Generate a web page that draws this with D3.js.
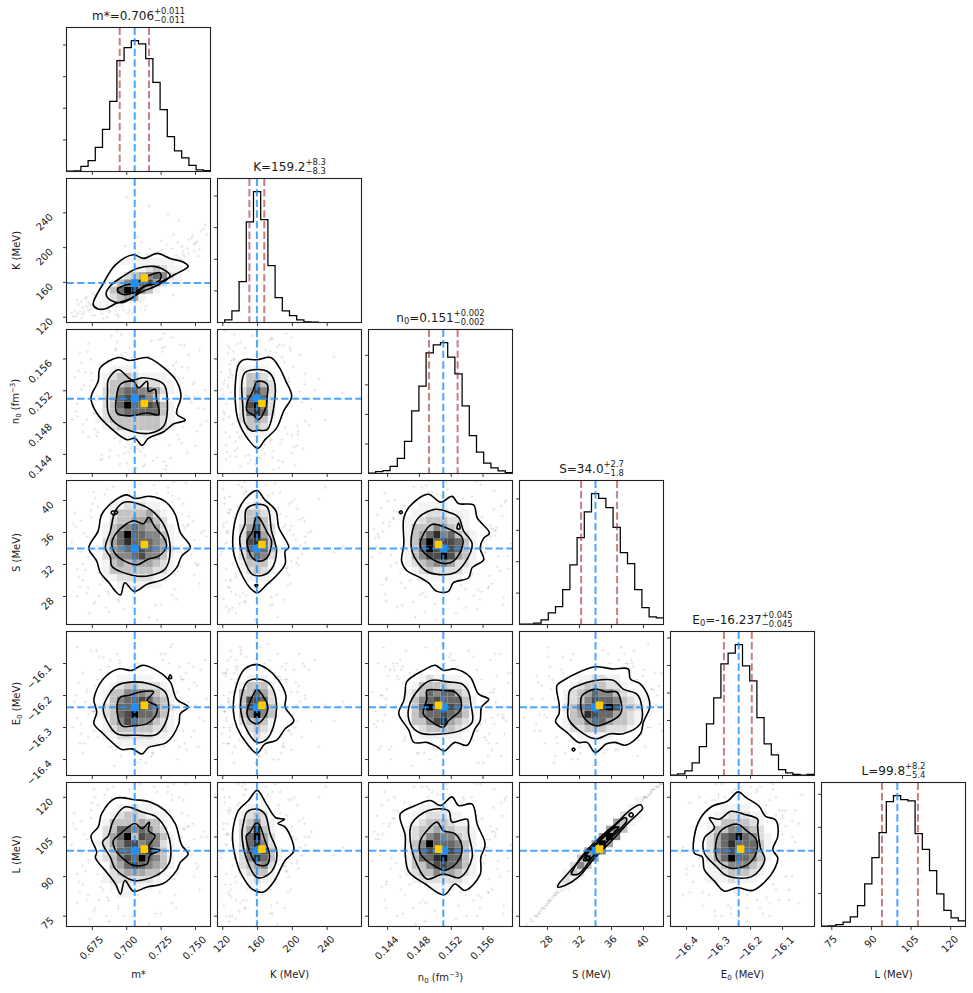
<!DOCTYPE html>
<html><head><meta charset="utf-8">
<script src="https://cdn.jsdelivr.net/npm/d3@7"></script>
<style>html,body{margin:0;padding:0;background:#fff}svg{display:block}text{font-family:"DejaVu Sans",sans-serif;fill:#1a1a1a}</style>
</head><body><svg id="c" width="973" height="993"></svg>
<script>
// ---- parameter axes
const domains=[[0.6562,0.7609],[113.9,279.5],[0.1416,0.1597],[24.5,42.5],[-16.45,-16.0],[71.1,125.6]];
const tickValues=[[0.675,0.7,0.725,0.75],[120,160,200,240],[0.144,0.148,0.152,0.156],[28,32,36,40],[-16.4,-16.3,-16.2,-16.1],[75,90,105,120]];
const tickFormats=[".3f",".0f",".3f",".0f",".1f",".0f"];
const medians=[0.7058,159.2,0.151,34.0,-16.237,99.8];
const lower16=[0.6949,150.6,0.1492,32.2,-16.283,94.0];
const upper84=[0.7162,167.7,0.1528,36.7,-16.196,107.6];
const bestFit=[0.7128,165,0.1504,34.5,-16.231,100.4];
// ---- one-dimensional histograms, 20 bins
const countsM=[1,2,16,34,76,133,222,351,392,414,404,357,282,196,110,65,43,19,5,3];
const countsK=[0,8,37,129,318,414,325,180,79,37,22,8,2,1,0,0,0,0,0,0];
const countsN=[1,6,10,24,51,109,212,296,408,435,443,394,337,229,128,72,35,19,9,3];
const countsS=[1,1,4,15,37,57,111,190,277,359,417,402,372,309,229,194,111,54,24,21];
const countsE=[1,6,17,46,105,188,282,406,445,476,399,344,210,115,75,21,10,4,1,4];
const countsL=[1,2,6,13,29,63,129,208,284,378,396,384,380,281,233,169,99,49,26,17];
const histCounts=[countsM,countsK,countsN,countsS,countsE,countsL];
const histTicks=[100,200,300,400,500];
// ---- titles
const titleNames=[["m*"],["K"],["n","0"],["S"],["E","0"],["L"]];
const titleValues=["0.706","159.2","0.151","34.0","-16.237","99.8"];
const titlePlus=["0.011","8.3","0.002","2.7","0.045","8.2"];
const titleMinus=["0.011","8.3","0.002","1.8","0.045","5.4"];
const axisLabels=[[["m*"]],[["K (MeV)"]],[["n"],["0","sub"],[" (fm"],["\u22123","sup"],[")"]],[["S (MeV)"]],[["E"],["0","sub"],[" (MeV)"]],[["L (MeV)"]]];
// ---- samples outside the contours: m*, K, n0, S, E0, L
const samples=[
[.672,128,.1462,29.1,-16.33,83],[.681,136,.1552,38.2,-16.12,113],[.664,124,.1504,31.4,-16.27,91],[.733,182,.1481,28.2,-16.14,80],[.741,196,.1536,39.6,-16.31,119],
[.688,134,.1445,33.2,-16.36,97],[.726,174,.1569,36.9,-16.09,109],[.694,146,.1438,27.4,-16.21,78],[.749,204,.1512,35.1,-16.16,104],[.677,122,.1491,40.3,-16.25,120],
[.719,170,.1478,30.2,-16.38,88],[.702,146,.1574,41.2,-16.18,123],[.685,131,.1539,26.6,-16.29,75],[.738,188,.1459,33.8,-16.11,100],[.669,126,.1527,35.9,-16.35,106],
[.712,165,.1448,37.7,-16.24,112],[.693,141,.1581,31.2,-16.07,90],[.728,178,.1421,32.9,-16.19,96],[.756,222,.1497,36.2,-16.28,107],[.679,137,.1468,39.2,-16.15,117],
[.708,158,.1554,28.8,-16.41,83],[.745,209,.1565,34.4,-16.22,101],[.661,121,.1484,37.1,-16.3,110],[.696,133,.1591,33.1,-16.13,97],[.722,177,.1436,40.9,-16.26,122],
[.683,129,.1518,29.9,-16.08,85],[.735,181,.1547,30.8,-16.34,89],[.69,142,.1473,41.7,-16.2,124],[.715,192,.1505,32.3,-16.12,94],[.7,149,.1429,35.4,-16.37,104],
[.674,133,.1559,37.9,-16.23,112],[.751,207,.1469,31.9,-16.17,93],[.705,176,.1586,27.9,-16.27,79],[.731,168,.1452,38.6,-16.1,115],[.667,119,.1522,33.6,-16.32,99],
[.687,127,.1487,26.1,-16.21,73],[.742,190,.1577,36.6,-16.35,108],[.698,168,.1441,39.9,-16.14,119],[.724,195,.1532,29.4,-16.25,84],[.678,141,.1463,34.9,-16.06,103],
[.71,138,.1557,42,-16.29,125],[.737,184,.1493,31.1,-16.4,91],[.692,128,.1573,38.9,-16.19,116],[.729,203,.1426,34.2,-16.3,100],[.665,135,.1545,30.4,-16.16,88],
[.716,183,.1475,25.4,-16.24,72],[.748,214,.1528,37.4,-16.11,110],[.682,124,.1434,36.1,-16.28,106],[.704,188,.1562,32.6,-16.33,95],[.733,172,.1508,40.6,-16.04,121],
[.671,143,.1484,28.4,-16.18,81],[.718,161,.1583,39.3,-16.39,118],[.695,135,.1456,30.9,-16.09,90],[.74,201,.155,35.7,-16.26,105],[.686,120,.1515,41.4,-16.13,123],
[.727,189,.1431,33.4,-16.36,98],[.662,127,.1537,38.4,-16.22,114],[.709,194,.1466,31.6,-16.15,92],[.753,198,.1571,29.6,-16.27,85],[.676,139,.1499,27.1,-16.31,77],
[.701,125,.1443,37.3,-16.12,110],[.734,215,.1541,34.7,-16.2,102],[.689,154,.1589,40,-16.28,120],[.721,175,.1459,26.9,-16.16,76],[.668,131,.1478,32.1,-16.38,94],
[.745,193,.1512,38,-16.1,113],[.697,172,.1564,35.2,-16.34,104],[.713,129,.1438,30.1,-16.23,87],[.73,186,.1496,41,-16.18,122],[.68,147,.1548,28.1,-16.08,81],
[.707,185,.1423,36.4,-16.29,107],[.739,185,.1578,31.7,-16.14,93],[.675,122,.1533,39.6,-16.25,118],[.691,160,.1471,33.7,-16.42,99],[.725,208,.1519,37.6,-16.07,111],
[.758,215,.1482,35.5,-16.21,105],[.666,126,.1567,29.2,-16.35,84],[.703,137,.1448,38.7,-16.11,115],[.736,191,.1556,27.6,-16.26,78],[.684,144,.1503,40.8,-16.3,121],
[.717,199,.1464,32.4,-16.19,95],[.693,123,.1595,34.6,-16.13,102],[.744,199,.1442,36.8,-16.37,109],[.673,135,.1526,25.9,-16.24,74],[.72,170,.1489,41.9,-16.17,124],
[.699,181,.1568,30.6,-16.32,89],[.732,163,.1435,37.2,-16.05,110],[.67,141,.1543,31.3,-16.22,92],[.711,206,.1476,39,-16.28,117],[.686,130,.1558,28.6,-16.15,82],
[.747,211,.1506,33.3,-16.33,98],[.695,158,.1428,35.8,-16.1,106],[.723,174,.1584,38.1,-16.27,113],[.663,121,.1494,36.7,-16.2,108],[.706,175,.1457,29.7,-16.12,85],
[.738,231,.1535,40.2,-16.36,120],[.677,145,.1472,27.3,-16.17,78],[.714,133,.156,34.1,-16.41,101],[.75,205,.1451,32.2,-16.23,95],[.688,126,.1524,38.5,-16.09,115],
[.726,197,.1574,36.3,-16.29,107],[.682,150,.1439,30.3,-16.18,88],[.743,180,.1514,42.2,-16.13,125],[.698,128,.1553,26.4,-16.31,75],[.719,187,.1486,35,-16.38,103],
[.672,137,.1579,33,-16.26,96],[.708,212,.1447,37.8,-16.1,112],[.735,165,.1538,28.9,-16.21,83],[.691,139,.1461,39.4,-16.34,118],[.727,193,.1592,31.5,-16.16,92],
[.66,125,.1509,34.8,-16.24,102],[.754,219,.1477,36,-16.12,105],[.702,128,.1546,40.5,-16.3,120],[.681,152,.1433,29.5,-16.2,86],[.716,248,.1563,33.5,-16.28,98],
[.74,186,.1454,38.3,-16.15,114],[.694,121,.1529,27.7,-16.35,79],[.728,183,.1575,35.6,-16.07,105],[.676,147,.1492,41.1,-16.25,123],[.71,178,.1444,31.8,-16.4,93],
[.745,173,.1549,37,-16.18,109],[.668,123,.1468,30,-16.13,87],[.7,258,.1517,34.3,-16.22,101],[.733,199,.1587,39.8,-16.32,119],[.687,135,.1437,28.3,-16.11,81],
[.722,157,.1501,25.1,-16.27,71],[.692,169,.1571,36.5,-16.37,107],[.737,206,.1465,32.8,-16.19,96],[.674,129,.1542,38.8,-16.06,115],[.712,140,.1425,35.3,-16.25,104],
[.749,196,.1531,30.7,-16.31,90],[.685,155,.1598,33.9,-16.16,99],[.73,238,.1483,41.6,-16.23,124],[.667,138,.1555,37.5,-16.29,111],[.704,124,.1452,26.7,-16.14,75],
[.757,226,.1521,34,-16.09,100],[.696,162,.1566,29,-16.39,84],[.719,184,.1432,39.1,-16.2,117],[.679,143,.151,31,-16.33,91],[.741,192,.1474,36.9,-16.15,108],
[.683,118,.1544,33.2,-16.23,97],[.725,177,.1585,27,-16.26,76],[.699,202,.1449,40.1,-16.12,120],[.752,190,.1498,32,-16.36,94],[.671,132,.1569,35.5,-16.19,104],
[.713,159,.1427,38.2,-16.28,113],[.689,163,.1534,30.5,-16.14,89],[.734,145,.1552,42.3,-16.31,125],[.664,140,.1488,28,-16.05,80],[.706,126,.1576,36.2,-16.22,106]];
// ---- two-dimensional panels: contours and grey cells in hist2d bin coordinates (0..20); cells are [row, first column, levels]
const greyLevels=[255,243,222,195,165,135,105,75,45,0];
const contoursKm=[[3.7,2.5,4.3,1.9,5.4,1.9,7,2.7,9.1,3.4,10.7,4.9,13,5.6,15.1,6.7,16.9,7.8,16.2,8.4,14.4,8.9,12.6,9.6,10.7,8.9,9.3,9.4,6.8,8,5.1,5.4],[5.5,4,6.1,3.1,7.9,2.8,10.3,4.2,12.5,5.1,14.4,6.5,13.2,7.5,12.1,7.8,9.8,7.5,8,6.5,6.1,5.1],[7.1,4.4,7.9,3.9,9.5,4.2,10.7,5,13,5.9,13,6.9,11.4,6.5,9.8,5.6,7.9,5.1,7.1,4.7]];
const cellsKm=[[2,4,"1111"],[3,5,"123441"],[4,6,"3698531"],[5,6,"1355674211"],[6,8,"23456521"],[7,9,"1123211"],[8,7,"11111111"]];
const contoursNm=[[3.4,10.5,4.2,8.4,5.6,6.8,8.4,4.7,9.5,4.9,10.5,3.9,11.4,4.9,13.5,5.8,14.9,6.9,16.5,7.4,15.3,8.3,15.9,10.7,15.3,12.8,13.5,14.7,11.2,16.1,8.8,15.7,7.2,16.1,4.7,14.7,4.4,12.8],[5.7,11.4,5.8,8.4,6.8,7,9.3,5.8,11.6,5.6,13.5,6.6,14,10.3,13.5,12.4,10.7,13.3,9.1,13,7.2,14.4,5.8,13],[7,8.4,8.6,8,11.2,8.4,12.8,8.2,12.5,10.3,12.3,11.7,11.4,11.4,11.2,12.8,10,11.9,9.3,12.8,7.5,12.4,6.9,10.3]];
const cellsNm=[[5,7,"111111"],[6,5,"1233333321"],[7,4,"12333333321"],[8,5,"2356666631"],[9,5,"2369667631"],[10,4,"1236767531"],[11,5,"2356655421"],[12,5,"1334322211"],[13,5,"123321111"],[14,6,"1111"]];
const contoursNK=[[4.3,4.7,5.6,3.5,6.6,4.7,8.2,6.3,9.2,8.7,10.3,10.7,9.5,12.8,8.6,14.7,7.4,16.1,5.5,15.8,3.6,15.8,2.9,15.1,2.5,12.8,2.5,9.6,2.9,7.3],[3.4,12.8,3.5,9.6,3.8,7,4.8,5.9,5.6,6,6.9,6.1,7.8,9.1,7.9,12.8,6.9,14.2,5,14.4,3.8,14],[4.1,9.8,4.1,8.7,5,8.1,5.7,7.5,6.6,8.9,6.9,10.7,6.9,12.4,5.6,12.8,4.8,11.2]];
const cellsNK=[[5,4,"111"],[6,3,"1332"],[7,3,"23431"],[8,3,"26862"],[9,3,"27962"],[10,3,"26862"],[11,3,"24752"],[12,3,"13532"],[13,3,"13321"],[14,3,"1111"]];
const contoursSm=[[3.1,10.6,4.2,8.8,4.7,7.2,5.9,5.8,6.8,4.6,7.5,4.1,8.1,5.8,9.4,4.6,11.2,5.6,13.5,6.3,15.3,7.9,16,9.5,17.2,10.7,15.8,12.8,15.1,15.3,13.7,17.1,11.6,17.8,9.5,17.5,8.4,18,6.8,17.3,4.9,15.3,4.4,13],[5.4,10.6,6.1,9.3,6.3,8.1,9.3,6.8,11.6,6.8,13.7,7.7,14.4,10.2,13.7,13.5,12.1,15.6,10.7,16.5,8.1,17,6.8,15.8,6.1,13],[6.3,11.2,6.8,9.8,8.1,8.8,9.8,8.3,11.4,9.1,12.8,9.5,13.9,10.9,13.5,12.1,12.3,13.5,11.4,14.9,10.7,14,9.3,14.4,7,12.8],[6.2,15.6,6.8,15.8,7.1,15.6,6.5,15.2]];
const cellsSm=[[5,7,"111111"],[6,5,"112222211"],[7,5,"1333333221"],[8,5,"1343444321"],[9,5,"2455675531"],[10,4,"124567765421"],[11,5,"2468666541"],[12,5,"1369665531"],[13,5,"1345654421"],[14,6,"23344532"],[15,6,"13333421"],[16,6,"1122211"],[17,8,"111"]];
const contoursSK=[[2.2,13,2.2,10.2,3.1,7.5,4.5,5.1,5.5,4.4,6.9,5.6,8.2,6.8,9.4,8.4,9.4,10.2,9.9,10.7,8.5,13.5,8.1,15.8,6.5,17.4,5.5,18.6,3.8,17.4,2.7,15.3],[3.1,12.1,3.6,9.3,4.8,7,6.2,6.8,7.5,7.7,8.2,10.2,7.5,13,6.9,16.3,5.5,16.7,4,16,3.8,13.9],[4.1,11.6,4.8,9.3,5.7,8.8,6.9,9.3,7.5,11.6,6.9,12.8,5.7,14.9,5.4,14.9,4.8,12.8],[5.2,5.5,5.6,5.5,5.4,5.2]];
const cellsSK=[[6,4,"111"],[7,3,"12321"],[8,3,"13331"],[9,3,"24652"],[10,3,"267631"],[11,3,"27863"],[12,3,"26942"],[13,3,"24732"],[14,3,"13531"],[15,3,"13321"],[16,4,"121"],[17,5,"1"]];
const contoursSN=[[4.6,8.8,5.3,7.5,7.2,6.5,8.3,5.8,9.5,4.6,11.1,4.6,11.8,5.8,13.9,6.5,14.4,7.9,16,9,15.5,10.6,16,12,16.8,12.7,15.1,14.8,14.6,16.6,12.5,16.8,11.6,17.8,10,17,8.3,18.1,5.8,16.5,4.9,14.8,4.9,11.1],[6.1,10,7.9,7.5,9.3,7,12,7.2,13.4,8.6,14.4,11.2,13.2,13,12.5,14.9,11.1,15.6,9.3,16,7,14.9,6.1,13],[7.2,10.9,7.9,9.8,10.2,8.5,11.8,8.8,13,10.7,13,12.1,10.6,13.5,8.8,13.9,7.6,12.5],[4.3,15.6,4.5,15.8,4.7,15.6,4.5,15.4],[12.5,14.1,12.7,13.3,12.3,13.3]];
const cellsSN=[[6,7,"111111"],[7,6,"12322221"],[8,5,"1234554221"],[9,5,"1357797431"],[10,5,"1369787631"],[11,5,"1369677631"],[12,5,"1346856321"],[13,5,"133354321"],[14,5,"112333221"],[15,6,"11222111"],[16,7,"1111"]];
const contoursEm=[[3.8,7.2,5.1,5.8,6.8,4.2,7.7,3.6,9.1,3.7,10.5,3,11.4,3.9,13.9,4.6,15.6,7.2,15.8,8.6,16.9,9.5,15.3,10.6,14.4,13,12.5,14.6,10.5,15.3,9.1,14.6,7.2,14.8,5.1,13.4,3.8,10.6,4.2,8.8],[5.1,9.3,5.6,7.6,7,5.8,9.8,5.6,12.5,5.7,13.7,7.2,14.2,9.5,13.7,11.6,11.6,12.7,9.3,13,7,12.5,5.8,11.1],[7,9.5,7.7,6.9,9.3,6.9,11.2,7.2,12.5,8.6,12.5,9.7,11.2,10.4,12.1,11.6,10.2,11.6,8.6,11.1,7.5,10.9],[14.2,13.5,14.6,13.5,14.4,14]];
const cellsEm=[[4,7,"111111"],[5,5,"112222211"],[6,5,"1233333221"],[7,5,"1357655321"],[8,4,"12367966531"],[9,4,"123666765321"],[10,5,"1356676431"],[11,5,"1335554321"],[12,6,"12332221"],[13,7,"11111"]];
const contoursEK=[[2.2,9,2.7,6.7,4.1,4.4,5.5,3.1,6.6,4.4,8.2,4.9,9.4,6.5,10.6,7.6,9.4,9.5,9.5,11.1,8.5,13.2,6.9,14.8,5.5,15.4,3.8,14.8,2.7,12.7],[3.2,9.5,3.8,6.9,5.5,4.6,6.9,5.1,7.8,6.9,8.2,9.5,7.8,11.8,6.9,13,5.5,13.4,4.1,13,3.4,11.3],[4.1,8.6,4.8,7.4,5.5,7.2,6.4,7.9,7,9.5,6.4,10.9,5.5,11.9,4.5,10.2]];
const cellsEK=[[5,4,"121"],[6,4,"2321"],[7,3,"23431"],[8,3,"35953"],[9,3,"378631"],[10,3,"37762"],[11,3,"33642"],[12,3,"13331"],[13,4,"111"]];
const contoursEN=[[4.2,8.6,5.6,6.3,6.3,4.6,8.1,4.6,9.5,4,10.5,3.4,12,4.6,13.7,4.2,14.8,6.5,15.5,7.6,15.7,9.5,16.7,10.6,15.3,11.3,14.1,13.7,12,14.8,10.4,14.6,9.3,15.3,7.6,14.6,5.3,13,5.1,11.6,4.9,10.4],[5.6,9.5,5.8,7.2,7.2,5.9,10.6,5.8,12.9,6.3,14.4,7.4,14.2,10,13.9,11.6,13,12.7,11.1,13,8.6,13.2,7,12],[7.6,8.6,8.6,7.6,10.4,6.7,11.1,7.6,12.7,9,12.9,10.2,12,11.6,10.4,11.8,8.1,11.8,8.1,10.6]];
const cellsEN=[[5,7,"111111"],[6,6,"12333321"],[7,5,"1335784321"],[8,5,"1356676531"],[9,5,"1369777631"],[10,5,"1356766631"],[11,5,"123656632"],[12,6,"13333221"],[13,7,"121111"]];
const contoursES=[[5.2,12.5,5.5,9.9,5.5,8.6,5,7.5,6.8,5.8,8.2,4.6,9.4,4.6,10.5,3.2,12.1,4.4,13.3,4.6,14.7,4.2,16.8,5.8,17.2,7.4,18.1,9.5,17.9,10.9,16.8,12.7,15.4,13.4,15.1,14.8,13,14.8,10.5,15.1,8.4,14.4,6.1,13.2],[6.8,10.2,6.8,7.9,8.2,6.3,10.5,5.1,12.6,5.8,14.4,5.8,16.8,7.2,17,9.5,16.3,11.3,14.4,12,13.1,13.2,10.5,13.2,8.2,12.5,7,11.8],[8.5,10.2,8.9,8.1,10.5,6.9,11.9,7.2,14,8.5,14.2,9.5,13.5,11.6,12.1,11.6,10.5,12,8.7,11.1],[7.3,3.6,7.5,3.8,7.7,3.6,7.5,3.4]];
const cellsES=[[5,8,"11111"],[6,6,"1223332221"],[7,6,"13356643321"],[8,6,"13487664321"],[9,6,"235678973321"],[10,6,"123576653211"],[11,6,"1234655321"],[12,7,"12333221"],[13,8,"112211"]];
const contoursLm=[[3.4,12.6,4.2,10.3,4,9.6,5.6,7.5,6.8,5.9,7.5,4.5,8.1,6.4,9.3,4.9,11.2,5.5,13.5,6,15.3,7.8,15.8,8.9,16.9,10.1,16,11.3,15.1,14.3,13.7,16.1,11.6,17.3,9.5,17.6,6.8,17.8,4.9,15.7,4.4,13.8],[5,11.7,6.1,9.6,6.8,8,9.3,6.4,12.5,7.1,14.2,8.7,14.5,10.6,13.9,13.3,12.5,15.2,10.5,15.9,8.1,16.6,6.5,14.7,5.8,12.6],[6.5,11.9,6.8,10.6,7.9,9.4,9.3,8.5,11.2,8.7,11.6,9.9,13,10.6,11.4,11,12.3,12.6,11.4,13.3,11.5,14.5,10.5,13.6,9.5,14.3,7.5,12.9]];
const cellsLm=[[4,7,"11"],[5,6,"111111"],[6,5,"12222221"],[7,5,"123444331"],[8,6,"346765431"],[9,4,"12357696531"],[10,5,"2366768431"],[11,4,"12457756521"],[12,5,"2469376531"],[13,5,"236656532"],[14,5,"133334331"],[15,6,"12332111"],[16,7,"11211"]];
const contoursLK=[[2.1,11.9,2.9,8.2,3.4,7.1,4.8,5.2,6.4,4.8,7.8,6.2,9.4,9.2,10.6,10.5,9.4,13.8,8.4,14.3,9.3,14.9,8.1,15.1,6.8,17,5.5,18.9,4.3,17.5,2.9,16.1,2.2,13.8],[3.4,12.9,4.1,9.2,5.5,6.8,6.9,7.1,8,8.5,8.2,10.6,7.3,12.9,6.6,15.6,5.5,16.3,4.1,15.9,3.6,14.3],[4,12.6,4.8,9.6,5.5,8.6,6.9,8.6,7.2,10.1,6.6,11.9,5.7,14.3,5.3,14.3,4.5,13.1]];
const cellsLK=[[5,4,"11"],[6,4,"1211"],[7,3,"12331"],[8,3,"23452"],[9,3,"258631"],[10,3,"267731"],[11,3,"26852"],[12,3,"26942"],[13,3,"24831"],[14,3,"23521"],[15,3,"1232"],[16,4,"111"]];
const contoursLN=[[4.4,15.6,5.1,12.6,5.1,10.1,5.6,7.6,7.9,5.9,10.5,4.4,12,5.9,13.4,5,15.5,7.2,15.6,9.6,16.2,11.4,15.1,14.2,14.4,17,12.5,16.8,11.6,18,10,16.8,8.6,17.5,6.5,16.8],[5.8,11.9,6.7,8.7,8.1,6.6,10.4,7.3,12.7,6.8,14.4,9.6,13.9,12.9,13.7,14.9,11.6,14.5,11.1,16.1,8.3,16.1,6,14.3],[7.2,11.9,7.2,10.1,9.5,8.2,10.6,7.8,12.3,8.9,13,11,12,12.9,10.4,13.3,9.5,14.5,8.1,13.3]];
const cellsLN=[[5,8,"1111"],[6,6,"12222221"],[7,5,"1233544321"],[8,5,"1335776531"],[9,5,"1366896631"],[10,5,"1367767631"],[11,5,"1359666531"],[12,5,"1235655321"],[13,5,"1233433221"],[14,6,"12333211"],[15,6,"1122211"],[16,7,"1111"]];
const contoursLS=[[5.3,5.5,6.3,5.7,8.2,6.9,10.5,9.6,12.8,11.9,15.1,14.4,16.5,15.7,17.1,16.4,16.8,16.9,15.4,16.2,12.8,13.6,11,11.9,9.1,10,6.3,6.9,5.5,6],[7.2,7.3,8.2,7.3,10.5,10.1,12.8,12.4,14.9,14.7,14.7,15.1,13.1,14,11,12.2,9.1,10.3,7.3,7.6],[8.9,9.2,9.8,9.4,12.8,12.6,13.7,13.8,13.3,13.8,11,11.7,9.4,10.1],[9.2,9.5,9.5,9.8,9.8,9.5,9.5,9.2],[15.2,15.5,15.5,15.8,15.8,15.5,15.5,15.2]];
const cellsLS=[[5,5,"11"],[6,6,"21"],[7,6,"132"],[8,7,"253"],[9,8,"374"],[10,9,"475"],[11,10,"494"],[12,11,"495"],[13,12,"463"],[14,13,"431"],[15,14,"211"],[16,15,"11"],[17,16,"1"]];
const contoursLE=[[3.3,12.5,3.3,10.2,4.4,9.7,4.7,7.9,6.1,6.3,7.5,4.9,9.3,5.4,11.4,5,13.2,6.3,14.4,7.9,14.9,9.5,14.2,10.7,14.9,12.5,14.6,14.8,13.2,15.3,12.3,16.7,10.5,17.9,9.4,18.7,7.9,17.4,5.8,16.7,4.2,15.1],[4.7,12.3,4.7,10.2,6.3,8.4,7.9,7,11.4,7,13.1,9.3,12.5,10.9,12.1,13.9,12.1,14.9,10.2,15.6,8.4,16,6.8,14.9,5.4,15.1,6.1,13.7],[6.4,12.1,6.5,9.3,8.4,8.1,10.7,8.6,11.9,10.2,11.9,12.1,10.7,13.2,9.3,14.2,7.2,13.5]];
const cellsLE=[[6,5,"1112111"],[7,5,"11233321"],[8,5,"12355532"],[9,5,"246966531"],[10,5,"256776631"],[11,5,"246866631"],[12,5,"246796521"],[13,5,"13355432"],[14,5,"11333321"],[15,6,"1122211"],[16,7,"1111"]];
const panels2d=[
{r:1,c:0,contours:contoursKm,cells:cellsKm},{r:2,c:0,contours:contoursNm,cells:cellsNm},{r:2,c:1,contours:contoursNK,cells:cellsNK},
{r:3,c:0,contours:contoursSm,cells:cellsSm},{r:3,c:1,contours:contoursSK,cells:cellsSK},{r:3,c:2,contours:contoursSN,cells:cellsSN},
{r:4,c:0,contours:contoursEm,cells:cellsEm},{r:4,c:1,contours:contoursEK,cells:cellsEK},{r:4,c:2,contours:contoursEN,cells:cellsEN},{r:4,c:3,contours:contoursES,cells:cellsES},
{r:5,c:0,contours:contoursLm,cells:cellsLm},{r:5,c:1,contours:contoursLK,cells:cellsLK},{r:5,c:2,contours:contoursLN,cells:cellsLN},{r:5,c:3,contours:contoursLS,cells:cellsLS},{r:5,c:4,contours:contoursLE,cells:cellsLE}];

// ---- layout
const size=144,pitch=151,left0=66.5,top0=27.5;
const svg=d3.select("#c");
const blue="dodgerblue",brown="brown",gold="#ffcc00";
const xS=i=>d3.scaleLinear(domains[i],[0,size]);
const yS=i=>d3.scaleLinear(domains[i],[size,0]);
const binValue=i=>d3.scaleLinear([0,20],domains[i]);
const defs=svg.append("defs");
defs.append("clipPath").attr("id","pc").append("rect").attr("width",size).attr("height",size);

function styleAxis(g){
  g.select(".domain").remove();
  g.selectAll(".tick line").attr("stroke","#222").attr("stroke-width",0.9);
}
function xAxis(g,i,labels){
  const ax=d3.axisBottom(xS(i)).tickValues(tickValues[i]).tickSize(3.5).offset(0).tickFormat(labels?d3.format(tickFormats[i]):"");
  g.call(ax);styleAxis(g);
  if(labels) g.selectAll(".tick text").each(function(){
    const t=d3.select(this),w=this.getComputedTextLength();
    t.attr("text-anchor","middle").attr("font-size",10).attr("font-family","DejaVu Sans").attr("fill","#1a1a1a")
     .attr("x",null).attr("y",null).attr("dy",null)
     .attr("transform",`translate(-1,${10+0.4*w}) rotate(-45) translate(0,3.5)`);
  });
}
function yAxis(g,scale,values,fmt){
  const ax=d3.axisLeft(scale).tickValues(values).tickSize(3.5).offset(0).tickFormat(fmt?d3.format(fmt):"");
  g.call(ax);styleAxis(g);
  if(fmt) g.selectAll(".tick text").each(function(){
    const t=d3.select(this),w=this.getComputedTextLength();
    t.attr("text-anchor","middle").attr("font-size",10).attr("font-family","DejaVu Sans").attr("fill","#1a1a1a")
     .attr("x",null).attr("y",null).attr("dy",null)
     .attr("transform",`translate(${-13-0.47*w},${2.5+0.35*w}) rotate(-45) translate(0,3.5)`);
  });
}
function frame(g){
  g.append("rect").attr("width",size).attr("height",size).attr("fill","none").attr("stroke","#222").attr("stroke-width",1.1);
}
function dash(g,color,op,x1,y1,x2,y2){
  g.append("line").attr("x1",x1).attr("y1",y1).attr("x2",x2).attr("y2",y2)
   .attr("stroke",color).attr("stroke-opacity",op).attr("stroke-width",2).attr("stroke-dasharray","7.4,3.2");
}

// diagonal histograms
d3.range(6).forEach(i=>{
  const g=svg.append("g").attr("transform",`translate(${left0+pitch*i},${top0+pitch*i})`);
  const counts=histCounts[i],x=xS(i),b=binValue(i);
  const y=d3.scaleLinear([0,1.1*d3.max(counts)],[size,0]);
  const pts=[[b(0),0]].concat(counts.map((v,k)=>[b(k),v]),[[b(20),counts[19]]]);
  const inner=g.append("g").attr("clip-path","url(#pc)");
  inner.append("path").attr("d",d3.line().curve(d3.curveStepAfter).x(d=>x(d[0])).y(d=>y(d[1]))(pts))
    .attr("fill","none").attr("stroke","#000").attr("stroke-width",1.25);
  [lower16[i],upper84[i]].forEach(v=>dash(inner,brown,0.6,x(v),0,x(v),size));
  dash(inner,blue,0.8,x(medians[i]),0,x(medians[i]),size);
  g.append("g").attr("transform",`translate(0,${size})`).call(a=>xAxis(a,i,i===5));
  g.append("g").call(a=>yAxis(a,y,histTicks.filter(t=>t<y.domain()[1]),null));
  frame(g);
  // title
  const tg=g.append("g").attr("transform","translate(0,-8)");
  const main=tg.append("text").attr("font-size",12);
  main.append("tspan").text(titleNames[i][0]);
  if(titleNames[i][1]) main.append("tspan").attr("font-size",8.4).attr("dy",2).text(titleNames[i][1]);
  main.append("tspan").attr("dy",titleNames[i][1]?-2:null).text("="+titleValues[i]);
  const mw=main.node().getComputedTextLength();
  const sup=tg.append("text").attr("font-size",8.4).attr("x",mw).attr("y",-6).text("+"+titlePlus[i]);
  const sub=tg.append("text").attr("font-size",8.4).attr("x",mw).attr("y",3.7).text("\u2212"+titleMinus[i]);
  const tot=mw+Math.max(sup.node().getComputedTextLength(),sub.node().getComputedTextLength());
  tg.attr("transform",`translate(${size/2-tot/2},-8)`);
});

// two-dimensional panels
const greyOf=v=>{const k=greyLevels[v];return `rgb(${k},${k},${k})`;};
const closedCurve=d3.line().curve(d3.curveCatmullRomClosed.alpha(0.5));
panels2d.forEach(p=>{
  const {r,c}=p,x=xS(c),y=yS(r),bx=binValue(c),by=binValue(r);
  const X=b=>x(bx(b)),Y=b=>y(by(b));
  const g=svg.append("g").attr("transform",`translate(${left0+pitch*c},${top0+pitch*r})`);
  const inner=g.append("g").attr("clip-path","url(#pc)");
  inner.append("g").selectAll("path").data(samples).join("path")
    .attr("transform",d=>`translate(${x(d[c])},${y(d[r])})`)
    .attr("d","M-1.8,0H1.8M0,-1.8V1.8").attr("stroke","#555").attr("stroke-opacity",0.16).attr("stroke-width",0.7).attr("fill","none");
  const rings=p.contours.map(f=>d3.range(0,f.length,2).map(k=>[X(f[k]),Y(f[k+1])]));
  inner.append("path").attr("d",closedCurve(rings[0])).attr("fill","#fff");
  p.cells.forEach(([row,col,levels])=>{
    inner.append("g").selectAll("rect").data(Array.from(levels,(ch,k)=>({col:col+k,v:+ch}))).join("rect")
      .attr("x",d=>X(d.col)).attr("width",d=>X(d.col+1)-X(d.col))
      .attr("y",Y(row+1)).attr("height",Y(row)-Y(row+1))
      .attr("fill",d=>greyOf(d.v));
  });
  inner.append("g").selectAll("path").data(rings).join("path")
    .attr("d",d=>closedCurve(d)).attr("fill","none").attr("stroke","#000").attr("stroke-width",1.6).attr("stroke-linejoin","round");
  dash(inner,blue,0.8,x(medians[c]),0,x(medians[c]),size);
  dash(inner,blue,0.8,0,y(medians[r]),size,y(medians[r]));
  const sq=d3.symbol().type(d3.symbolSquare).size(58)();
  inner.append("path").attr("d",sq).attr("fill",blue).attr("transform",`translate(${x(medians[c])},${y(medians[r])})`);
  inner.append("path").attr("d",sq).attr("fill",gold).attr("transform",`translate(${x(bestFit[c])},${y(bestFit[r])})`);
  g.append("g").attr("transform",`translate(0,${size})`).call(a=>xAxis(a,c,r===5));
  g.append("g").call(a=>yAxis(a,y,tickValues[r],c===0?tickFormats[r]:null));
  frame(g);
});

// axis titles
function rich(t,parts){
  parts.forEach((pt,k)=>{
    const s=t.append("tspan").text(pt[0]);
    const prev=k>0?parts[k-1][1]:null;
    let dy=0;
    if(prev==="sub") dy-=2; if(prev==="sup") dy+=3.6;
    if(pt[1]==="sub"){dy+=2;s.attr("font-size",7);}
    if(pt[1]==="sup"){dy-=3.6;s.attr("font-size",7);}
    if(dy) s.attr("dy",dy);
  });
}
axisLabels.forEach((parts,i)=>{
  const tx=svg.append("text").attr("font-size",10).attr("text-anchor","middle")
    .attr("transform",`translate(${left0+pitch*i+size/2},${i===2?981:978})`);
  rich(tx,parts);
  if(i>0){
    const ty=svg.append("text").attr("font-size",10).attr("text-anchor","middle")
      .attr("transform",`translate(${i===2?19:20},${top0+pitch*i+size/2}) rotate(-90)`);
    rich(ty,parts);
  }
});
</script></body></html>
